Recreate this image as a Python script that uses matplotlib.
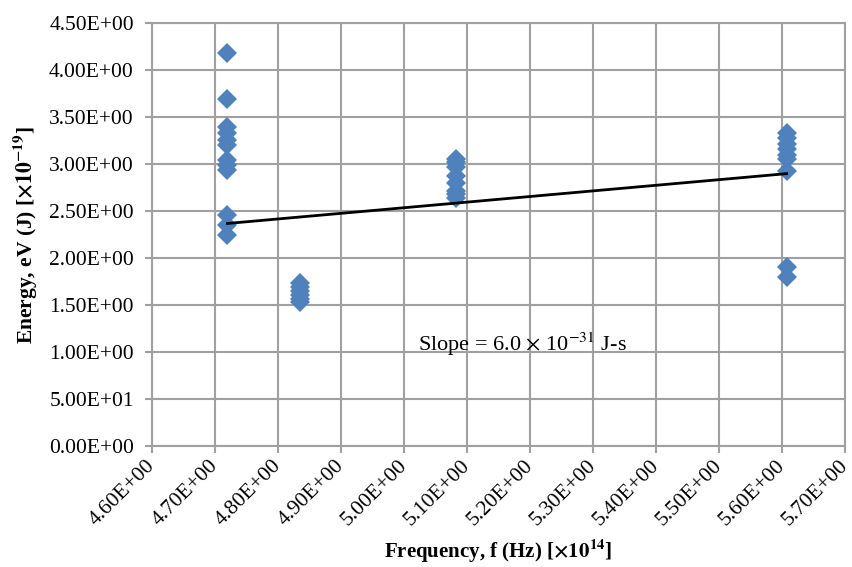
import matplotlib
matplotlib.use("Agg")
import matplotlib.pyplot as plt
import numpy as np

plt.rcParams['font.family'] = ['Liberation Serif', 'DejaVu Serif']
plt.rcParams['mathtext.fontset'] = 'stix'

# frequency groups (x 10^14 Hz) and measured energies (x 10^-19 J)
f1 = 4.72
e1 = [4.18, 3.69, 3.40, 3.33, 3.26, 3.20, 3.04, 2.99, 2.94, 2.46, 2.35, 2.25]
f2 = 4.835
e2 = [1.74, 1.69, 1.65, 1.61, 1.57, 1.53]
f3 = 5.083
e3 = [3.06, 3.02, 2.97, 2.88, 2.80, 2.72, 2.68, 2.64]
f4 = 5.607
e4 = [3.33, 3.28, 3.22, 3.16, 3.10, 3.06, 2.93, 1.91, 1.80]

# linear trendline end points
trend_x = [4.72, 5.607]
trend_y = [2.37, 2.90]

xticks = [4.6, 4.7, 4.8, 4.9, 5.0, 5.1, 5.2, 5.3, 5.4, 5.5, 5.6, 5.7]
xlabels = ['4.60E+00', '4.70E+00', '4.80E+00', '4.90E+00', '5.00E+00', '5.10E+00',
           '5.20E+00', '5.30E+00', '5.40E+00', '5.50E+00', '5.60E+00', '5.70E+00']
yticks = [0, 0.5, 1.0, 1.5, 2.0, 2.5, 3.0, 3.5, 4.0, 4.5]
ylabels = ['0.00E+00', '5.00E+01', '1.00E+00', '1.50E+00', '2.00E+00', '2.50E+00',
           '3.00E+00', '3.50E+00', '4.00E+00', '4.50E+00']

x = np.concatenate([np.full(len(e1), f1), np.full(len(e2), f2),
                    np.full(len(e3), f3), np.full(len(e4), f4)])
y = np.concatenate([e1, e2, e3, e4])

fig = plt.figure(figsize=(8.53, 5.67), dpi=100)
ax = fig.add_axes([0.178, 0.213, 0.813, 0.746])

ax.plot(x, y, 'D', color='#4F81BD', markersize=10, markeredgewidth=0, zorder=3)
ax.plot(trend_x, trend_y, color='black', linewidth=2, zorder=4)

ax.set_xlim(4.6, 5.7)
ax.set_ylim(0, 4.5)
ax.set_xticks(xticks)
ax.set_xticklabels(xlabels, rotation=45, ha='right', va='center', rotation_mode='anchor')
ax.set_yticks(yticks)
ax.set_yticklabels(ylabels)
ax.tick_params(labelsize=15.5, length=5, width=1.5, color='#A0A0A0')
ax.tick_params(axis='y', pad=8)
ax.tick_params(axis='x', pad=7)
ax.grid(True, color='#A0A0A0', linewidth=1.5)
ax.set_axisbelow(True)
for s in ax.spines.values():
    s.set_color('#A0A0A0')
    s.set_linewidth(1.5)

ax.set_xlabel(r'Frequency, f (Hz) [$\mathbf{\times10^{14}}$]', fontsize=15, fontweight='bold', labelpad=6)
ax.set_ylabel(r'Energy, eV (J) [$\mathbf{\times10^{-19}}$]', fontsize=15.5, fontweight='bold', labelpad=7)
ax.text(5.022, 1.09, r'Slope = 6.0 $\times$ 10$^{-31}$ J-s', fontsize=16, va='center')

fig.savefig('out.png', dpi=100)
